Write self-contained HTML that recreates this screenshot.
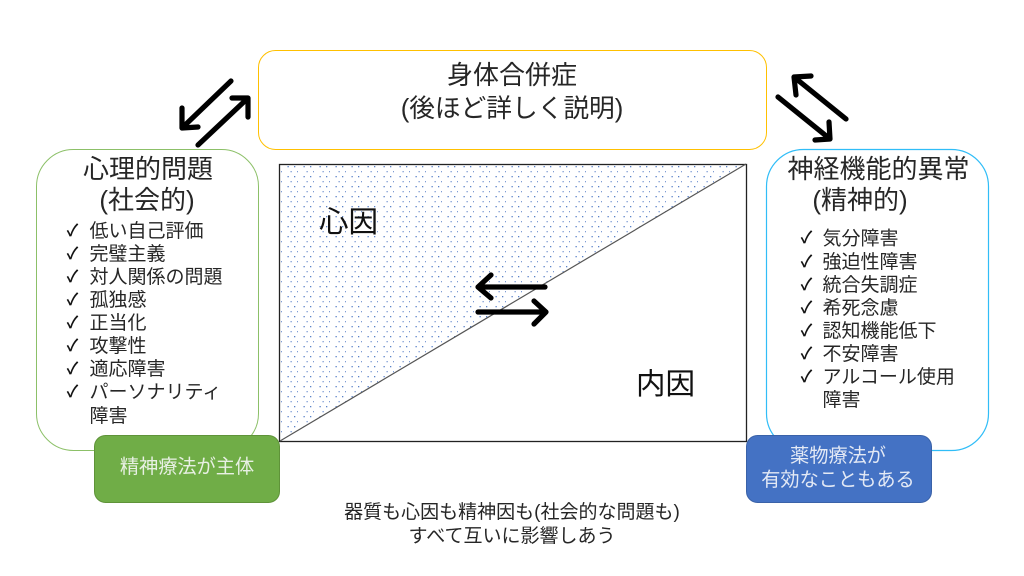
<!DOCTYPE html>
<html lang="ja">
<head>
<meta charset="utf-8">
<style>
html,body{margin:0;padding:0;background:#fff;width:1024px;height:576px;overflow:hidden}
svg{display:block}
text{font-family:"Liberation Sans","Noto Sans CJK JP",sans-serif;fill:#262626}
.t{font-size:26px;text-anchor:middle}
.l{font-size:19px}
.c{font-size:16px;fill:#111;stroke:#111;stroke-width:.5}
.w{fill:#e8f0e4;font-size:19.200px;text-anchor:middle}
.b{font-size:19px;text-anchor:middle}
.a{fill:none;stroke:#000;stroke-width:5.200;stroke-linecap:round;stroke-linejoin:round}
</style>
</head>
<body>
<svg width="1024" height="576" viewBox="0 0 1024 576" xmlns="http://www.w3.org/2000/svg">
<defs>
<pattern id="dots" x="282" y="166" width="16" height="10" patternUnits="userSpaceOnUse">
<rect x="5.500" y="0" width="1.300" height="1.300" fill="#5b82c8"/>
<rect x="12" y="0" width="1.300" height="1.300" fill="#5b82c8"/>
<rect x="8.500" y="5" width="1.300" height="1.300" fill="#7d9bd4"/>
<rect x="15" y="5" width="1" height="1.300" fill="#7d9bd4"/>
</pattern>
</defs>

<rect x="258.500" y="50.500" width="508" height="99" rx="17" fill="#fff" stroke="#ffc000" stroke-width="1"/>
<rect x="36.500" y="149.500" width="222" height="301" rx="37" fill="#fff" stroke="#8cc068" stroke-width="1"/>
<rect x="766.500" y="149.500" width="222" height="301" rx="37" fill="#fff" stroke="#30bdf7" stroke-width="1.200"/>

<rect x="280" y="164" width="466" height="277" fill="#fff"/>
<polygon points="280,164 746,164 280,441" fill="url(#dots)"/>
<rect x="279.500" y="164.500" width="467" height="277" fill="none" stroke="#222" stroke-width="1.300"/>
<line x1="280" y1="441" x2="746" y2="164" stroke="#555" stroke-width="1.200"/>

<rect x="94.500" y="435.500" width="185" height="67" rx="11" fill="#70ad47" stroke="#5f9339" stroke-width="1"/>
<rect x="746.500" y="435.500" width="185" height="67" rx="11" fill="#4472c4" stroke="#3a62a8" stroke-width="1"/>

<g class="a">
<path d="M231 81 L182 128 M182 108 L182 128 L198 127"/>
<path d="M198 145 L248 98 M232 98 L248 98 L248 117"/>
<path d="M846 119 L794 77 M796 95 L794 77 L811 76"/>
<path d="M778 97 L830 139 M829 122 L830 139 L815 140"/>
<path d="M545 287 L478 287 M491 275 L478 287 L491 298"/>
<path d="M478 312 L546 312 M534 301 L546 312 L534 324"/>
</g>

<text class="t" x="512" y="84">身体合併症</text>
<text class="t" x="512" y="117" style="font-size:25.700px">(後ほど詳しく説明)</text>

<text class="t" x="148" y="178">心理的問題</text>
<text class="t" x="147" y="209">(社会的)</text>
<text class="c" x="67" y="236">✓</text>
<text class="c" x="67" y="259">✓</text>
<text class="c" x="67" y="282">✓</text>
<text class="c" x="67" y="305">✓</text>
<text class="c" x="67" y="328">✓</text>
<text class="c" x="67" y="351">✓</text>
<text class="c" x="67" y="374">✓</text>
<text class="c" x="67" y="397">✓</text>
<text class="l" x="89.500" y="237">低い自己評価</text>
<text class="l" x="89.500" y="260">完璧主義</text>
<text class="l" x="89.500" y="283">対人関係の問題</text>
<text class="l" x="89.500" y="306">孤独感</text>
<text class="l" x="89.500" y="329">正当化</text>
<text class="l" x="89.500" y="352">攻撃性</text>
<text class="l" x="89.500" y="375">適応障害</text>
<text class="l" x="89.500" y="398">パーソナリティ</text>
<text class="l" x="89.500" y="422">障害</text>

<text class="t" x="878.500" y="178">神経機能的異常</text>
<text class="t" x="860" y="209">(精神的)</text>
<text class="c" x="801" y="243">✓</text>
<text class="c" x="801" y="267">✓</text>
<text class="c" x="801" y="290">✓</text>
<text class="c" x="801" y="313">✓</text>
<text class="c" x="801" y="336">✓</text>
<text class="c" x="801" y="359">✓</text>
<text class="c" x="801" y="382">✓</text>
<text class="l" x="822.500" y="244.500">気分障害</text>
<text class="l" x="822.500" y="268">強迫性障害</text>
<text class="l" x="822.500" y="291">統合失調症</text>
<text class="l" x="822.500" y="314">希死念慮</text>
<text class="l" x="822.500" y="337">認知機能低下</text>
<text class="l" x="822.500" y="360">不安障害</text>
<text class="l" x="822.500" y="383">アルコール使用</text>
<text class="l" x="822.500" y="406">障害</text>

<text x="319" y="232" style="font-size:29.500px;fill:#111">心因</text>
<text x="636" y="394" style="font-size:29.500px;fill:#111">内因</text>

<text class="w" x="187" y="473">精神療法が主体</text>
<text class="w" x="838" y="462" style="fill:#e3e9f5">薬物療法が</text>
<text class="w" x="838" y="486" style="fill:#e3e9f5">有効なこともある</text>

<text class="b" x="512" y="518">器質も心因も精神因も(社会的な問題も)</text>
<text class="b" x="512" y="542">すべて互いに影響しあう</text>
</svg>
</body>
</html>
